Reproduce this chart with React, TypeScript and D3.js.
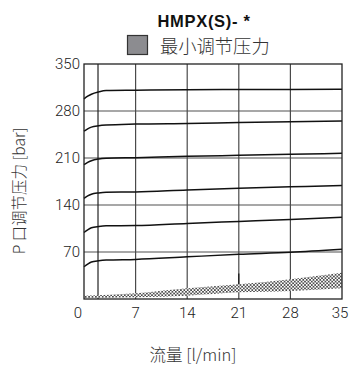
import { useEffect, useRef } from 'react'
import * as d3 from 'd3'

// flow [l/min] sample points for the pressure curves
const flowPts = [0, 0.5, 1, 2, 3, 7, 14, 21, 28, 35]
const curve1 = [298, 302, 305, 308.5, 310.5, 311, 311.8, 312, 312.2, 312.5]
const curve2 = [250, 253.5, 256, 258, 259, 260.5, 261.5, 262.8, 264, 265]
const curve3 = [200, 203.5, 206, 208.5, 209.5, 210.5, 212.5, 214, 215.5, 217]
const curve4 = [150, 153.5, 156, 158, 159, 159.5, 162.5, 165, 167, 169]
const curve5 = [99, 103, 106, 108, 109, 109.3, 112.5, 115.5, 118.5, 121.7]
const curve6 = [48, 52, 55, 57, 58, 59, 62.8, 66.5, 69.5, 74]
const curves = [curve1, curve2, curve3, curve4, curve5, curve6]

// minimum adjustable pressure band
const bandFlow = [0, 7, 14, 21, 28, 35]
const bandLow = [1.5, 2.5, 5, 10, 12, 16]
const bandHigh = [5, 8.5, 16, 22, 29.5, 39]

const xTicks = [0, 7, 14, 21, 28, 35]
const yTicks = [0, 70, 140, 210, 280, 350]
const extraFlowLine = 1.9
const markFlow = 21
const markRange = [22, 38]

export default function App() {
  const svgRef = useRef<SVGSVGElement>(null)

  useEffect(() => {
    if (!svgRef.current) return
    const svg = d3.select(svgRef.current)
    svg.selectAll('*').remove()

    const width = 349
    const height = 366
    const margin = { top: 64, right: 7, bottom: 67, left: 84 }
    const w = width - margin.left - margin.right
    const h = height - margin.top - margin.bottom

    svg.attr('width', width).attr('height', height)

    const defs = svg.append('defs')
    const pat = defs
      .append('pattern')
      .attr('id', 'hatch')
      .attr('patternUnits', 'userSpaceOnUse')
      .attr('width', 3.4)
      .attr('height', 3.4)
    pat.append('rect').attr('width', 3.4).attr('height', 3.4).attr('fill', '#fff')
    pat
      .append('path')
      .attr('d', 'M0,0L3.4,3.4M3.4,0L0,3.4')
      .attr('stroke', '#333')
      .attr('stroke-width', 0.75)

    const g = svg.append('g').attr('transform', `translate(${margin.left},${margin.top})`)

    const x = d3.scaleLinear().domain([0, 35]).range([0, w])
    const y = d3.scaleLinear().domain([0, 350]).range([h, 0])

    // horizontal grid
    g.selectAll('.hgrid')
      .data(yTicks.filter((t) => t > 0 && t < 350))
      .join('line')
      .attr('x1', 0)
      .attr('x2', w)
      .attr('y1', (d) => y(d))
      .attr('y2', (d) => y(d))
      .attr('stroke', '#8a8a8a')
      .attr('stroke-width', 1.6)

    // vertical grid
    g.selectAll('.vgrid')
      .data(xTicks.filter((t) => t > 0 && t < 35))
      .join('line')
      .attr('x1', (d) => x(d))
      .attr('x2', (d) => x(d))
      .attr('y1', 0)
      .attr('y2', h)
      .attr('stroke', '#4a4a4a')
      .attr('stroke-width', 1.2)

    g.append('line')
      .attr('x1', x(extraFlowLine))
      .attr('x2', x(extraFlowLine))
      .attr('y1', 0)
      .attr('y2', h)
      .attr('stroke', '#222')
      .attr('stroke-width', 1.2)

    // band
    const area = d3
      .area<number>()
      .x((_, i) => x(bandFlow[i]))
      .y0((_, i) => y(bandLow[i]))
      .y1((d) => y(d))
      .curve(d3.curveMonotoneX)
    g.append('path').datum(bandHigh).attr('fill', 'url(#hatch)').attr('d', area)

    g.append('line')
      .attr('x1', x(markFlow))
      .attr('x2', x(markFlow))
      .attr('y1', y(markRange[0]))
      .attr('y2', y(markRange[1]))
      .attr('stroke', '#111')
      .attr('stroke-width', 1.2)

    // curves
    const line = d3
      .line<number>()
      .x((_, i) => x(flowPts[i]))
      .y((d) => y(d))
      .curve(d3.curveMonotoneX)
    g.selectAll('.curve')
      .data(curves)
      .join('path')
      .attr('fill', 'none')
      .attr('stroke', '#111')
      .attr('stroke-width', 1.5)
      .attr('d', (d) => line(d))

    // frame
    g.append('rect')
      .attr('x', 0)
      .attr('y', 0)
      .attr('width', w)
      .attr('height', h)
      .attr('fill', 'none')
      .attr('stroke', '#222')
      .attr('stroke-width', 1.3)

    const tickFont = 'Roboto, "DejaVu Sans", sans-serif'
    g.selectAll('.xt')
      .data(xTicks)
      .join('text')
      .attr('x', (d) => x(d) - (d === 0 ? 6 : d === 35 ? 2 : 0))
      .attr('y', h + 19)
      .attr('text-anchor', 'middle')
      .attr('font-family', tickFont)
      .attr('font-weight', 300)
      .attr('font-size', 15)
      .attr('fill', '#222')
      .text((d) => d)

    g.selectAll('.yt')
      .data(yTicks.filter((t) => t > 0))
      .join('text')
      .attr('x', -4)
      .attr('y', (d) => y(d))
      .attr('dy', '0.36em')
      .attr('text-anchor', 'end')
      .attr('font-family', tickFont)
      .attr('font-weight', 300)
      .attr('font-size', 15)
      .attr('fill', '#222')
      .text((d) => d)

    // title
    svg
      .append('text')
      .attr('x', 204)
      .attr('y', 27)
      .attr('text-anchor', 'middle')
      .attr('font-family', '"Liberation Sans", Arial, sans-serif')
      .attr('font-weight', 'bold')
      .attr('font-size', 16.5)
      .attr('letter-spacing', 0.7)
      .attr('fill', '#111')
      .text('HMPX(S)- *')

    // legend
    svg
      .append('rect')
      .attr('x', 127.5)
      .attr('y', 35.5)
      .attr('width', 20)
      .attr('height', 19)
      .attr('fill', '#8c8c90')
      .attr('stroke', '#333')
      .attr('stroke-width', 1.2)
    svg
      .append('text')
      .attr('x', 160)
      .attr('y', 53)
      .attr('font-family', '"Noto Sans CJK SC", sans-serif')
      .attr('font-weight', 300)
      .attr('font-size', 18.3)
      .attr('fill', '#333')
      .text('最小调节压力')

    // axis titles
    svg
      .append('text')
      .attr('transform', 'translate(25,191) rotate(-90)')
      .attr('text-anchor', 'middle')
      .attr('font-family', '"Noto Sans CJK SC", sans-serif')
      .attr('font-weight', 300)
      .attr('font-size', 15.5)
      .attr('fill', '#333')
      .text('P 口调节压力 [bar]')

    svg
      .append('text')
      .attr('x', 193)
      .attr('y', 361)
      .attr('text-anchor', 'middle')
      .attr('font-family', '"Noto Sans CJK SC", sans-serif')
      .attr('font-weight', 300)
      .attr('font-size', 16.5)
      .attr('fill', '#333')
      .text('流量 [l/min]')
  }, [])

  return (
    <div style={{ position: 'absolute', left: 0, top: 0, background: '#fff' }}>
      <svg ref={svgRef} style={{ display: 'block' }}></svg>
    </div>
  )
}
